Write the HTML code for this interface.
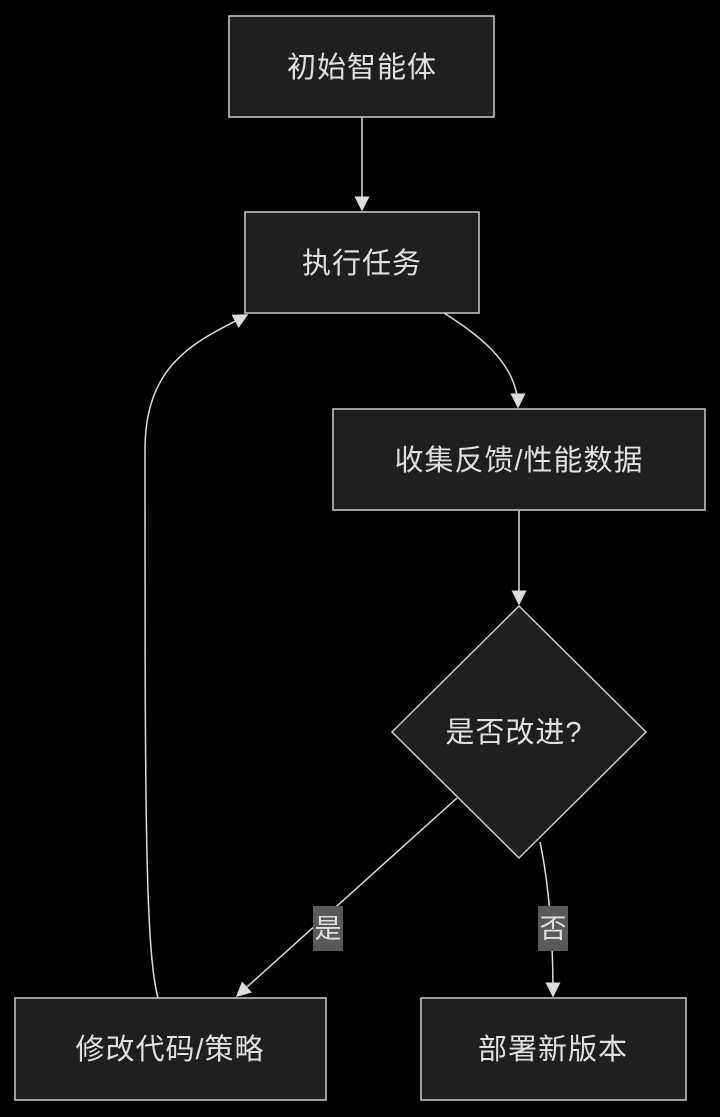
<!DOCTYPE html>
<html><head><meta charset="utf-8"><style>
html,body{margin:0;padding:0;background:#000;}
svg{display:block;}
text{font-family:"Liberation Sans","Noto Sans CJK SC",sans-serif;fill:#e0e0e0;font-size:29px;letter-spacing:1px;text-anchor:middle;dominant-baseline:central;}
text.l{font-size:27px;letter-spacing:0;}
</style></head><body>
<svg width="720" height="1117" viewBox="0 0 720 1117" xmlns="http://www.w3.org/2000/svg">
<defs>
<marker id="b" viewBox="0 0 10 10" refX="9" refY="5" markerWidth="15" markerHeight="15" markerUnits="userSpaceOnUse" orient="auto"><path d="M0,0L10,5L0,10z" fill="#ddd"/></marker></defs>
<g fill="none" stroke="#ddd" stroke-width="1.5">
<path d="M362,117V210" marker-end="url(#b)"/>
<path d="M444,313C470,330 518,360 518,407" marker-end="url(#b)"/>
<path d="M519,510V604" marker-end="url(#b)"/>
<path d="M457,798L237,996" marker-end="url(#b)"/>
<path d="M540,842C548,880 553,930 553,996" marker-end="url(#b)"/>
<path d="M158,998C145,950 145,800 145,450C145,360 200,340 247,315" marker-end="url(#b)"/>
</g>
<g fill="#1f1f1f" stroke="#ccc" stroke-width="1.5">
<rect x="229" y="16" width="265" height="101"/>
<rect x="245" y="212" width="234" height="101"/>
<rect x="333" y="409" width="372" height="101"/>
<path d="M519,606L646,732L519,858L392,732Z"/>
<rect x="15" y="998" width="311" height="102"/>
<rect x="421" y="998" width="265" height="102"/>
</g>
<rect x="313" y="906" width="30" height="45" fill="#5a5a5a"/>
<rect x="538" y="906" width="30" height="45" fill="#5a5a5a"/>
<text x="362" y="68">初始智能体</text>
<text x="362" y="264">执行任务</text>
<text x="519" y="461">收集反馈/性能数据</text>
<text x="514" y="733">是否改进?</text>
<text x="170" y="1050">修改代码/策略</text>
<text x="553" y="1050">部署新版本</text>
<text class="l" x="328" y="929">是</text>
<text class="l" x="553" y="929">否</text>
</svg>
</body></html>
